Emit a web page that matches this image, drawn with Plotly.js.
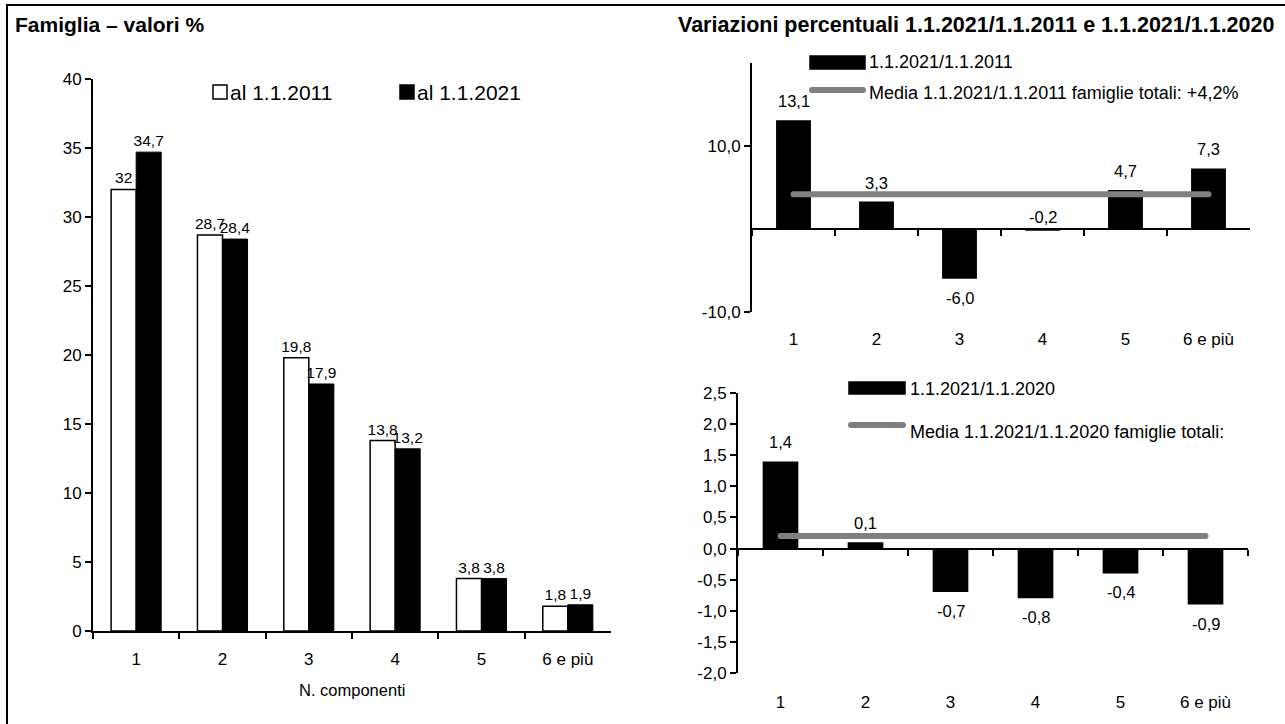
<!DOCTYPE html>
<html>
<head>
<meta charset="utf-8">
<script src="https://cdn.plot.ly/plotly-3.0.1.min.js"></script>
<style>
html,body{margin:0;padding:0;background:#fff;}
#chart{width:1285px;height:724px;}
.scatterlayer .js-line{stroke-linecap:round;}
.shapelayer path{stroke-linecap:round;}
</style>
</head>
<body>
<div id="chart"></div>
<script>
// ---- data ----
const categories = ['1', '2', '3', '4', '5', '6 e più'];
const share2011 = [32, 28.7, 19.8, 13.8, 3.8, 1.8];
const share2021 = [34.7, 28.4, 17.9, 13.2, 3.8, 1.9];
const var2021vs2011 = [13.1, 3.3, -6.0, -0.2, 4.7, 7.3];
const var2021vs2020 = [1.4, 0.1, -0.7, -0.8, -0.4, -0.9];
const mean2021vs2011 = 4.2;
const mean2021vs2020 = 0.2;
const ticksLeft = [0, 5, 10, 15, 20, 25, 30, 35, 40];
const ticksTop = [-10, 10];
const ticksBottom = [-2, -1.5, -1, -0.5, 0, 0.5, 1, 1.5, 2, 2.5];
const legendShare = ['al 1.1.2011', 'al 1.1.2021'];
const legendVar1 = ['1.1.2021/1.1.2011', 'Media 1.1.2021/1.1.2011 famiglie totali: +4,2%'];
const legendVar2 = ['1.1.2021/1.1.2020', 'Media 1.1.2021/1.1.2020 famiglie totali:'];
const titleLeft = 'Famiglia – valori %';
const titleRight = 'Variazioni percentuali 1.1.2021/1.1.2011 e 1.1.2021/1.1.2020';
const xTitleLeft = 'N. componenti';

// ---- helpers ----
const W = 1285, H = 724;
const X = p => p / W;
const Y = p => 1 - p / H;
const fmtPlain = v => String(v).replace('.', ',');
const fmt1 = v => v.toFixed(1).replace('.', ',');
const FONT = 'Liberation Sans, Arial, sans-serif';
const GRAY = '#808080';
const TICK = 17, LBL = 16.5, LBL_LEFT = 15.5;
const catIdx = categories.map((c, i) => i);

const leftRange = [0, 40];
const topRange = [-10, 20];
const botRange = [-2, 2.5];
const leftX = [X(93), X(611)], leftY = [Y(631), Y(79)];
const topX = [X(752), X(1250)], topY = [Y(312), Y(63)];
const botX = [X(738), X(1248)], botY = [Y(673), Y(393)];
const zeroPos = (dom, r) => dom[0] + (dom[1] - dom[0]) * (0 - r[0]) / (r[1] - r[0]);

const axisLine = {showline: true, linecolor: '#000', linewidth: 2, showgrid: false, zeroline: false,
  ticks: 'outside', ticklen: 6, tickwidth: 2, tickcolor: '#000', tickfont: {size: TICK, color: '#000'}};

const traces = [
  {type: 'bar', x: categories, y: share2011, xaxis: 'x', yaxis: 'y',
   marker: {color: '#fff', line: {color: '#000', width: 1.5}}, width: 0.29, offset: -0.29,
   text: share2011.map(fmtPlain), textposition: 'outside', textfont: {size: LBL_LEFT, color: '#000'},
   constraintext: 'none', cliponaxis: false, hoverinfo: 'skip'},
  {type: 'bar', x: categories, y: share2021, xaxis: 'x', yaxis: 'y',
   marker: {color: '#000', line: {color: '#000', width: 1}}, width: 0.29, offset: 0,
   text: share2021.map(fmtPlain), textposition: 'outside', textfont: {size: LBL_LEFT, color: '#000'},
   constraintext: 'none', cliponaxis: false, hoverinfo: 'skip'},
  {type: 'bar', x: categories, y: var2021vs2011, xaxis: 'x2', yaxis: 'y2',
   marker: {color: '#000'}, width: 0.42, cliponaxis: false, hoverinfo: 'skip'},
  {type: 'scatter', mode: 'lines', x: categories, y: categories.map(() => mean2021vs2011),
   xaxis: 'x3', yaxis: 'y2', line: {color: GRAY, width: 6}, hoverinfo: 'skip'},
  {type: 'bar', x: categories, y: var2021vs2020, xaxis: 'x4', yaxis: 'y3',
   marker: {color: '#000'}, width: 0.42, cliponaxis: false, hoverinfo: 'skip'},
  {type: 'scatter', mode: 'lines', x: categories, y: categories.map(() => mean2021vs2020),
   xaxis: 'x5', yaxis: 'y3', line: {color: GRAY, width: 6}, hoverinfo: 'skip'}
];

const annotations = [];
const shapes = [];
function txt(x, y, text, size, anchor, bold) {
  annotations.push({xref: 'paper', yref: 'paper', x: X(x), y: Y(y), text: text, showarrow: false,
    xanchor: anchor || 'left', yanchor: 'middle', font: {size: size, color: '#000', family: FONT,
    weight: bold ? 'bold' : 'normal'}});
}
function rect(x0, y0, x1, y1, fill) {
  shapes.push({type: 'rect', xref: 'paper', yref: 'paper', x0: X(x0), x1: X(x1), y0: Y(y1), y1: Y(y0),
    fillcolor: fill, line: {color: '#000', width: 1.5}});
}
function hline(x0, x1, y) {
  shapes.push({type: 'line', xref: 'paper', yref: 'paper', x0: X(x0), x1: X(x1), y0: Y(y), y1: Y(y),
    line: {color: GRAY, width: 6}});
}

// frame
shapes.push({type: 'rect', xref: 'paper', yref: 'paper', x0: X(7), x1: X(1300), y0: Y(740), y1: Y(5),
  line: {color: '#000', width: 2}, fillcolor: 'rgba(0,0,0,0)'});

// titles
txt(13, 25, '<b>' + titleLeft + '</b>', 21, 'left', true);
txt(676, 25, '<b>' + titleRight + '</b>', 21.5, 'left', true);
txt(352, 690, xTitleLeft, 16.5, 'center');

// left legend
rect(213, 85, 227, 99, '#fff'); txt(228, 92, legendShare[0], 21);
rect(400, 85, 414, 99, '#000'); txt(415, 92, legendShare[1], 21);
// top right legend
rect(810, 56, 865, 69, '#000'); txt(867, 62, legendVar1[0], 18);
hline(812, 863, 90); txt(867, 93, legendVar1[1], 18);
// bottom right legend
rect(849, 382, 905, 394, '#000'); txt(908, 389, legendVar2[0], 18);
hline(851, 903, 425); txt(908, 432, legendVar2[1], 18);

// data labels for variation charts (x given as category index)
function varLabels(vals, xa, ya, range) {
  const small = (range[1] - range[0]) * 0.02;
  vals.forEach((v, i) => {
    const above = v >= 0 || Math.abs(v) < small;
    annotations.push({xref: xa, yref: ya, x: catIdx[i], y: above ? Math.max(v, 0) : v,
      text: fmt1(v), showarrow: false, xanchor: 'center', yanchor: above ? 'bottom' : 'top',
      yshift: above ? (v > 0 ? 8 : 1) : -8, font: {size: LBL, color: '#000', family: FONT}});
  });
}
varLabels(var2021vs2011, 'x2', 'y2', topRange);
varLabels(var2021vs2020, 'x4', 'y3', botRange);

const layout = {
  width: W, height: H, margin: {l: 0, r: 0, t: 0, b: 0},
  paper_bgcolor: '#fff', plot_bgcolor: 'rgba(0,0,0,0)',
  font: {family: FONT, color: '#000', size: 16},
  separators: ',.', showlegend: false, barmode: 'overlay',
  xaxis: Object.assign({}, axisLine, {domain: leftX, anchor: 'y', type: 'category',
    range: [-0.5, 5.5], tickson: 'boundaries', ticklabelstandoff: 12}),
  yaxis: Object.assign({}, axisLine, {domain: leftY, anchor: 'x', range: leftRange,
    tickmode: 'array', tickvals: ticksLeft, ticktext: ticksLeft.map(fmtPlain)}),
  xaxis2: Object.assign({}, axisLine, {domain: topX, anchor: 'free', position: zeroPos(topY, topRange),
    type: 'category', range: [-0.5, 5.5], tickson: 'boundaries', showticklabels: false}),
  xaxis3: {overlaying: 'x2', anchor: 'free', position: Y(327), type: 'category', range: [-0.5, 5.5],
    showline: false, showgrid: false, zeroline: false, ticks: '', tickfont: {size: TICK, color: '#000'}},
  yaxis2: Object.assign({}, axisLine, {domain: topY, anchor: 'x2', range: topRange,
    tickmode: 'array', tickvals: ticksTop, ticktext: ticksTop.map(fmt1)}),
  xaxis4: Object.assign({}, axisLine, {domain: botX, anchor: 'free', position: zeroPos(botY, botRange),
    type: 'category', range: [-0.5, 5.5], tickson: 'boundaries', showticklabels: false}),
  xaxis5: {overlaying: 'x4', anchor: 'free', position: Y(690), type: 'category', range: [-0.5, 5.5],
    showline: false, showgrid: false, zeroline: false, ticks: '', tickfont: {size: TICK, color: '#000'}},
  yaxis3: Object.assign({}, axisLine, {domain: botY, anchor: 'x4', range: botRange,
    tickmode: 'array', tickvals: ticksBottom, ticktext: ticksBottom.map(fmt1)}),
  annotations: annotations,
  shapes: shapes
};

Plotly.newPlot('chart', traces, layout, {staticPlot: true, displayModeBar: false});
</script>
</body>
</html>
